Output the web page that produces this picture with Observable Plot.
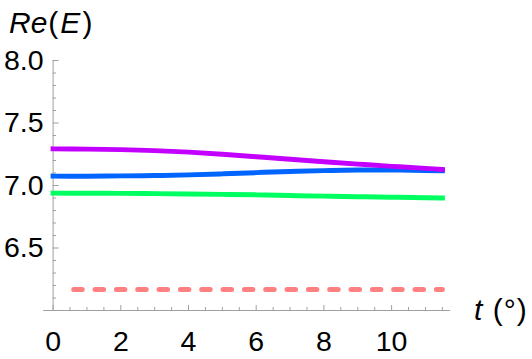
<!DOCTYPE html>
<html><head><meta charset="utf-8">
<script src="https://cdn.jsdelivr.net/npm/d3@7"></script>
<script src="https://cdn.jsdelivr.net/npm/@observablehq/plot@0.6"></script>
<style>body{margin:0;background:#fff} #chart{width:532px;height:359px}</style>
</head><body><div id="chart"></div>
<script>
const t = [0, 1, 2, 3, 4, 5, 6, 7, 8, 9, 10, 11, 11.5];
const purple = [7.293, 7.291, 7.287, 7.279, 7.267, 7.250, 7.230, 7.210, 7.190, 7.171, 7.153, 7.137, 7.128];
const blue   = [7.075, 7.075, 7.077, 7.080, 7.085, 7.093, 7.103, 7.112, 7.119, 7.124, 7.124, 7.120, 7.118];
const green  = [6.939, 6.938, 6.937, 6.935, 6.932, 6.929, 6.925, 6.920, 6.915, 6.910, 6.906, 6.902, 6.900];
const refT = [0.61, 11.5];
const refE = [6.168, 6.168];
const xMajor = [0, 2, 4, 6, 8, 10];
const xMinor = [0.5, 1, 1.5, 2.5, 3, 3.5, 4.5, 5, 5.5, 6.5, 7, 7.5, 8.5, 9, 9.5, 10.5, 11, 11.5];
const yMajor = [6.5, 7.0, 7.5, 8.0];
const yMinor = [6.1, 6.2, 6.3, 6.4, 6.6, 6.7, 6.8, 6.9, 7.1, 7.2, 7.3, 7.4, 7.6, 7.7, 7.8, 7.9];
const xDomain = [0, 11.74];
const yDomain = [6, 8];
const xAxisStart = -0.28;

const series = (ts, es) => ts.map((x, i) => ({t: x, e: es[i]}));
const font = "Liberation Sans, Arial, sans-serif";
const axisColor = "#a0a0a0";

const chart = Plot.plot({
  width: 532, height: 359,
  marginLeft: 52.6, marginRight: 82, marginTop: 60, marginBottom: 49,
  style: {fontFamily: font, background: "white"},
  x: {domain: xDomain},
  y: {domain: yDomain},
  marks: [
    Plot.ruleY([yDomain[0]], {x1: xAxisStart, x2: xDomain[1], stroke: axisColor}),
    Plot.ruleX([xDomain[0]], {stroke: axisColor}),
    Plot.axisX(xMinor, {anchor: "bottom", tickSize: -3, stroke: axisColor, fill: "none", label: null}),
    Plot.axisX(xMajor, {anchor: "bottom", tickSize: -5, tickPadding: 25, stroke: axisColor, fill: "black", fontSize: 28.5, label: null}),
    Plot.axisY(yMinor, {anchor: "left", tickSize: -3.5, stroke: axisColor, fill: "none", label: null}),
    Plot.axisY(yMajor, {anchor: "left", tickSize: -6, tickPadding: 15.5, stroke: axisColor, fill: "black", fontSize: 28.5, label: null, tickFormat: d => d.toFixed(1)}),
    Plot.line(series(refT, refE), {x: "t", y: "e", stroke: "#ff8080", strokeWidth: 5, strokeDasharray: "8.5,12.83"}),
    Plot.line(series(t, green), {x: "t", y: "e", stroke: "#00ff60", strokeWidth: 5, curve: "natural", strokeLinecap: "square"}),
    Plot.line(series(t, blue), {x: "t", y: "e", stroke: "#0064ff", strokeWidth: 5, curve: "natural", strokeLinecap: "square"}),
    Plot.line(series(t, purple), {x: "t", y: "e", stroke: "#c300ff", strokeWidth: 5, curve: "natural", strokeLinecap: "square"})
  ]
});
document.getElementById("chart").appendChild(chart);

const svg = d3.select(chart);
const title = svg.append("text").attr("x", 9).attr("y", 33).attr("font-size", 30).attr("font-family", font).attr("fill", "black").attr("text-anchor", "start");
title.append("tspan").attr("font-style", "italic").text("Re");
title.append("tspan").attr("dx", 1).text("(");
title.append("tspan").attr("font-style", "italic").attr("dx", 2).text("E");
title.append("tspan").attr("dx", 2).text(")");

const xl = svg.append("text").attr("x", 474).attr("y", 320).attr("font-size", 30).attr("font-family", font).attr("fill", "black").attr("text-anchor", "start");
xl.append("tspan").attr("font-style", "italic").text("t");
xl.append("tspan").attr("dx", 2).text("\u00a0(");
xl.append("tspan").attr("dx", 1).text("°");
xl.append("tspan").attr("dx", 1).text(")");
</script>
</body></html>
